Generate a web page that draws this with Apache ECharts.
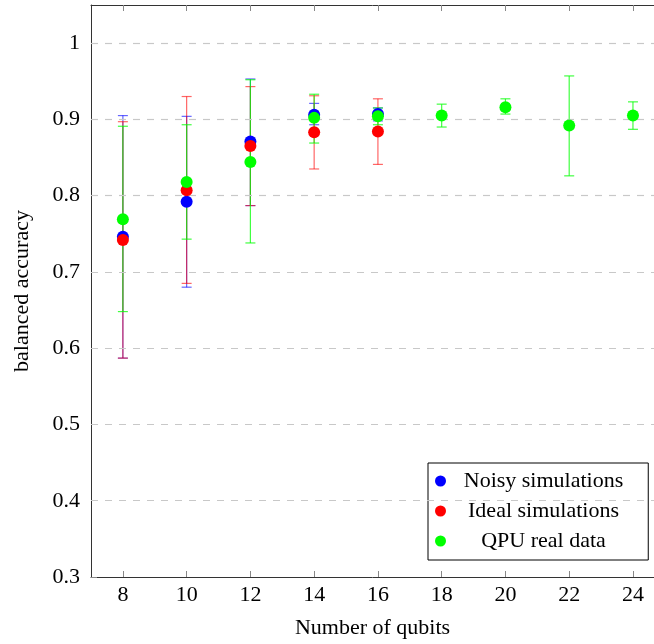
<!DOCTYPE html>
<html><head><meta charset="utf-8">
<script src="https://cdn.jsdelivr.net/npm/echarts@6/dist/echarts.min.js"></script>
<style>html,body{margin:0;padding:0;background:#fff}#c{width:654px;height:644px}</style>
</head><body><div id="c"></div>
<script>
const xTicks = [8,10,12,14,16,18,20,22,24];
const yTicks = [0.3,0.4,0.5,0.6,0.7,0.8,0.9,1];

const simX = [8,10,12,14,16];
const noisyMean = [0.746,0.792,0.871,0.906,0.907];
const noisyLow  = [0.587,0.680,0.787,0.893,0.898];
const noisyHigh = [0.905,0.904,0.953,0.921,0.915];

const idealMean = [0.742,0.807,0.865,0.883,0.884];
const idealLow  = [0.587,0.685,0.787,0.835,0.841];
const idealHigh = [0.897,0.930,0.943,0.931,0.927];

const qpuX    = [8,10,12,14,16,18,20,22,24];
const qpuMean = [0.769,0.818,0.844,0.902,0.904,0.905,0.916,0.892,0.905];
const qpuLow  = [0.648,0.743,0.738,0.869,0.893,0.890,0.907,0.826,0.887];
const qpuHigh = [0.891,0.893,0.952,0.933,0.915,0.920,0.927,0.957,0.923];

const names = ['Noisy simulations','Ideal simulations','QPU real data'];
const colors = ['#0000ff','#ff0000','#00ff00'];
const FONT = 'Liberation Serif';
const FS = 22;

function errSeries(name, xs, lo, hi, color, opacity){
  return {
    type:'custom', name: name, silent:true, z:2,
    itemStyle:{color:color},
    data: xs.map((x,i)=>[x, lo[i], hi[i]]),
    encode:{x:0, y:[1,2]},
    renderItem: function(params, api){
      const a = api.coord([api.value(0), api.value(1)]);
      const b = api.coord([api.value(0), api.value(2)]);
      const hw = 5;
      const st = {stroke: color, lineWidth: 1.2, opacity: opacity};
      return {type:'group', children:[
        {type:'line', shape:{x1:a[0],y1:a[1],x2:b[0],y2:b[1]}, style:st},
        {type:'line', shape:{x1:a[0]-hw,y1:a[1],x2:a[0]+hw,y2:a[1]}, style:st},
        {type:'line', shape:{x1:b[0]-hw,y1:b[1],x2:b[0]+hw,y2:b[1]}, style:st}
      ]};
    }
  };
}
function ptSeries(name, xs, ys, color, z){
  return {
    type:'scatter', name:name, symbol:'circle', symbolSize:12, z:z,
    itemStyle:{color:color, opacity:1},
    data: xs.map((x,i)=>[x, ys[i]])
  };
}

const chart = echarts.init(document.getElementById('c'), null, {renderer:'canvas'});
const axisLineStyle = {color:'#333', width:1};
chart.setOption({
  animation:false,
  backgroundColor:'#fff',
  grid:{left:91, top:5, right:0, bottom:64, containLabel:false},
  legend:{
    orient:'vertical', left:428, top:463,
    data: names.map((n,i)=>({name:n, icon:'circle', itemStyle:{color:colors[i]}})),
    itemWidth:11, itemHeight:11, itemGap:8,
    padding:[7,25,8,7],
    borderColor:'#000', borderWidth:1, backgroundColor:'#fff',
    formatter: n => '{t|' + n + '}',
    textStyle:{fontFamily:FONT, fontSize:FS, color:'#000',
      rich:{t:{fontFamily:FONT, fontSize:FS, color:'#000', width:185, align:'center'}}},
    selectedMode:false
  },
  xAxis:[{
    type:'value', min:7, max:24.66,
    name:'Number of qubits', nameLocation:'middle', nameGap:40,
    nameTextStyle:{fontFamily:FONT, fontSize:FS, color:'#000'},
    axisLine:{show:true, onZero:false, lineStyle:axisLineStyle},
    axisTick:{show:true, inside:true, length:6, customValues:xTicks, lineStyle:{color:'#888'}},
    axisLabel:{customValues:xTicks, fontFamily:FONT, fontSize:FS, color:'#000', margin:7},
    splitLine:{show:false}
  },{
    type:'value', min:7, max:24.66, position:'top',
    axisLine:{show:true, onZero:false, lineStyle:axisLineStyle},
    axisTick:{show:true, inside:true, length:6, customValues:xTicks, lineStyle:{color:'#888'}},
    axisLabel:{show:false},
    splitLine:{show:false}
  }],
  yAxis:[{
    type:'value', min:0.3, max:1.05,
    name:'balanced accuracy', nameLocation:'middle', nameGap:58, nameRotate:90,
    nameTextStyle:{fontFamily:FONT, fontSize:FS, color:'#000'},
    axisLine:{show:true, onZero:false, lineStyle:axisLineStyle},
    axisTick:{show:true, inside:true, length:6, customValues:yTicks, lineStyle:{color:'#888'}},
    axisLabel:{customValues:yTicks, fontFamily:FONT, fontSize:FS, color:'#000', margin:11,
      formatter:v=>String(Math.round(v*10)/10)},
    splitLine:{show:false}
  }],
  series:[
    {type:'line', silent:true, data:[], markLine:{
      silent:true, symbol:'none', label:{show:false},
      lineStyle:{type:[7,7], color:'#c8c8c8', width:1.2},
      data: yTicks.slice(1).map(v=>({yAxis:v}))
    }},
    errSeries(names[0], simX, noisyLow, noisyHigh, colors[0], 0.6),
    errSeries(names[1], simX, idealLow, idealHigh, colors[1], 0.6),
    errSeries(names[2], qpuX, qpuLow, qpuHigh, colors[2], 0.75),
    ptSeries(names[0], simX, noisyMean, colors[0], 5),
    ptSeries(names[1], simX, idealMean, colors[1], 6),
    ptSeries(names[2], qpuX, qpuMean, colors[2], 7)
  ]
});
</script></body></html>
